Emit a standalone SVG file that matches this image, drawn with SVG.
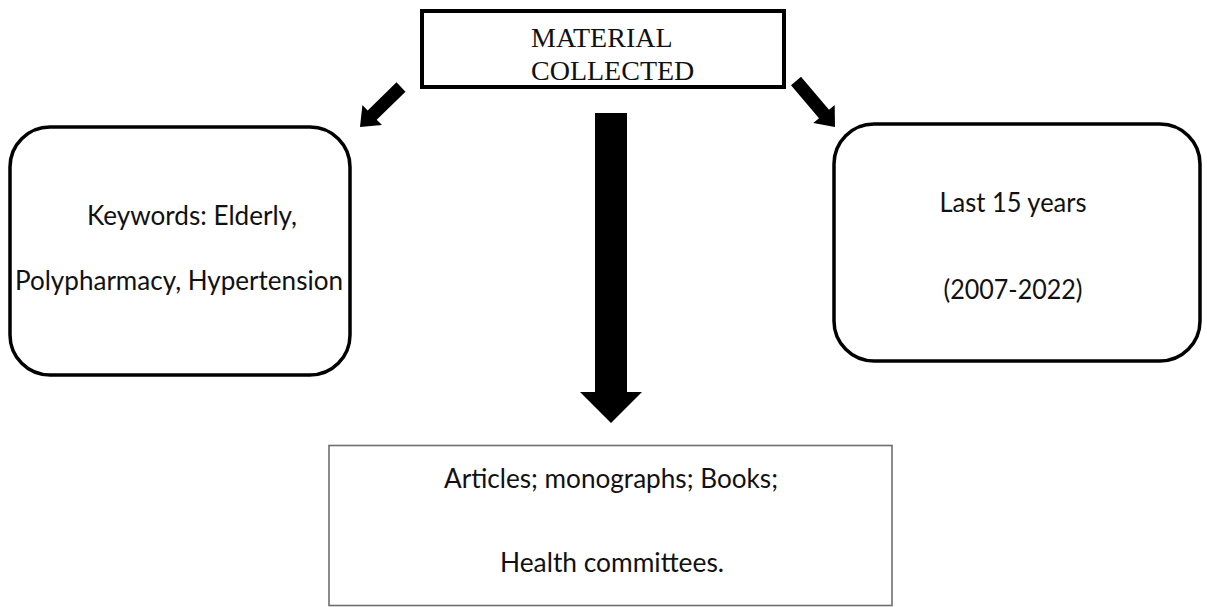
<svg xmlns="http://www.w3.org/2000/svg" width="1207" height="607" viewBox="0 0 1207 607">
<style>
.box{fill:#fff;stroke:#000;stroke-width:3.5}
.thin{fill:#fff;stroke:#6e6e6e;stroke-width:1.6}
.arrow{fill:#000;stroke:none}
.serif{font-family:"Liberation Serif","Times New Roman",serif;font-size:28px;fill:#111}
.sans{font-family:Lato,"Liberation Sans",sans-serif;font-size:26px;fill:#111;text-anchor:middle}
</style>
<rect width="1207" height="607" fill="#fff"/>
<g id="connectors">
<polygon class="arrow" points="396.5,82.3 405.5,91.7 376.7,119.8 382,125.1 360,127 362.4,105.1 367.7,110.4"/>
<polygon class="arrow" points="801,76.8 829,109.8 834.7,104.9 835,127 813.3,123.1 819,118.2 791,85.2"/>
<polygon class="arrow" points="595,113 627,113 627,392 642,392 611,423 580,392 595,392"/>
</g>
<g id="material">
<rect class="box" x="422" y="11" width="362" height="76" style="stroke-width:4"/>
<text class="serif" x="531" y="47">MATERIAL</text>
<text class="serif" x="531" y="80">COLLECTED</text>
</g>
<g id="keywords">
<rect class="box" x="10" y="127" width="340" height="248" rx="40" ry="40"/>
<text class="sans" x="192" y="225" textLength="210" lengthAdjust="spacingAndGlyphs">Keywords: Elderly,</text>
<text class="sans" x="179" y="290" textLength="328" lengthAdjust="spacingAndGlyphs">Polypharmacy, Hypertension</text>
</g>
<g id="years">
<rect class="box" x="834" y="124" width="366" height="237" rx="40" ry="40"/>
<text class="sans" x="1013" y="212" textLength="147" lengthAdjust="spacingAndGlyphs">Last 15 years</text>
<text class="sans" x="1013" y="299" textLength="139" lengthAdjust="spacingAndGlyphs">(2007-2022)</text>
</g>
<g id="sources">
<rect class="thin" x="329" y="445.5" width="563" height="160"/>
<text class="sans" x="611" y="488" textLength="334" lengthAdjust="spacingAndGlyphs">Articles; monographs; Books;</text>
<text class="sans" x="612" y="572" textLength="224" lengthAdjust="spacingAndGlyphs">Health committees.</text>
</g>
</svg>
